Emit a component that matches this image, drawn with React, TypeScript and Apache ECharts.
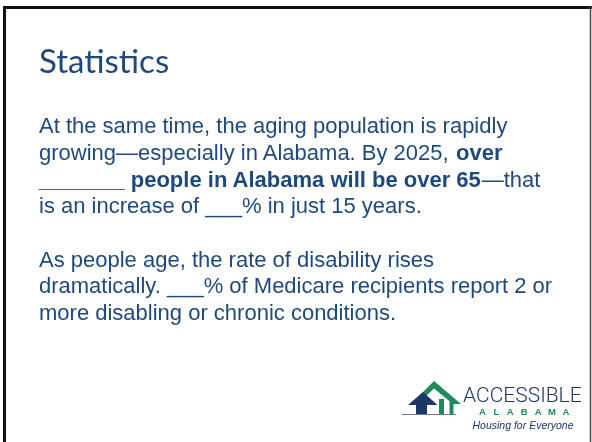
import React, { useEffect, useRef } from "react";
import * as echarts from "echarts";

// ---- slide content ----
const titleText = "Statistics";
// each line: list of [text, style] segments (r = regular, b = bold)
const paragraph1: [string, string][][] = [
  [["At the same time, the aging population is rapidly", "r"]],
  [["growing—especially in Alabama. By 2025, ", "r"], ["over", "b"]],
  [["_______ people in Alabama will be over 65", "b"], ["—that", "r"]],
  [["is an increase of ___% in just 15 years.", "r"]],
];
const paragraph2: [string, string][][] = [
  [["As people age, the rate of disability rises", "r"]],
  [["dramatically. ___% of Medicare recipients report 2 or", "r"]],
  [["more disabling or chronic conditions.", "r"]],
];
const logoWord = "ACCESSIBLE";
const logoState = ["A", "L", "A", "B", "A", "M", "A"];
const logoTagline = "Housing for Everyone";

const NAVY = "#1F497D";
const LOGO_NAVY = "#1B3768";
const LOGO_GREEN = "#1F8A5C";

export default function App() {
  const ref = useRef<HTMLDivElement>(null);
  useEffect(() => {
    if (!ref.current) return;
    const chart = echarts.init(ref.current, null, { renderer: "svg" });
    const bodyFont = "Liberation Sans, Arial, sans-serif";
    const bodySize = 22;
    const lineGap = 26.6;
    const central = 7.6;
    const rich = {
      r: { fontFamily: bodyFont, fontSize: bodySize, fill: NAVY, fontWeight: "normal" as const },
      b: { fontFamily: bodyFont, fontSize: bodySize, fill: NAVY, fontWeight: "bold" as const },
    };
    const lineEls = (lines: [string, string][][], firstBaseline: number) =>
      lines.map((segs, i) => ({
        type: "text",
        x: 39,
        y: firstBaseline + i * lineGap - central,
        style: {
          text: segs.map(([t, s]) => `{${s}|${t}}`).join(""),
          rich,
          align: "left",
          verticalAlign: "middle",
          fontFamily: bodyFont,
          fontSize: bodySize,
          fill: NAVY,
        },
      }));

    const elements: any[] = [
      // slide frame
      { type: "rect", shape: { x: 0, y: 0, width: 592, height: 442 }, style: { fill: "#fff" } },
      { type: "line", shape: { x1: 3, y1: 7.5, x2: 592, y2: 7.5 }, style: { stroke: "#111", lineWidth: 3 } },
      { type: "line", shape: { x1: 4.5, y1: 6, x2: 4.5, y2: 442 }, style: { stroke: "#111", lineWidth: 3 } },
      { type: "line", shape: { x1: 590.5, y1: 6, x2: 590.5, y2: 442 }, style: { stroke: "#444", lineWidth: 1.5 } },
      // title
      {
        type: "text",
        x: 39,
        y: 60,
        style: {
          text: titleText,
          fontFamily: "Lato, sans-serif",
          fontSize: 33,
          fill: NAVY,
          align: "left",
          verticalAlign: "middle",
        },
      },
      ...lineEls(paragraph1, 133.5),
      ...lineEls(paragraph2, 266.7),
      // logo icon
      {
        type: "polygon",
        shape: {
          points: [
            [419, 396], [434, 381], [461, 404], [453, 404], [434, 388.5], [425, 397],
          ],
        },
        style: { fill: LOGO_GREEN },
      },
      { type: "rect", shape: { x: 439, y: 399, width: 5, height: 15 }, style: { fill: LOGO_GREEN } },
      { type: "rect", shape: { x: 449.5, y: 400, width: 4, height: 14 }, style: { fill: LOGO_GREEN } },
      {
        type: "polygon",
        shape: {
          points: [
            [423, 392], [437.5, 405], [427, 405], [427, 414], [416, 414], [416, 405], [408, 405],
          ],
        },
        style: { fill: LOGO_NAVY },
      },
      { type: "line", shape: { x1: 402, y1: 414.5, x2: 456, y2: 414.5 }, style: { stroke: "#6b7a8f", lineWidth: 1 } },
      {
        type: "text",
        x: 463,
        y: 394.5,
        style: {
          text: logoWord,
          fontFamily: "Roboto, sans-serif",
          fontWeight: 300,
          fontSize: 21,
          fill: LOGO_NAVY,
          align: "left",
          verticalAlign: "middle",
        },
      },
      ...logoState.map((ch, i) => ({
        type: "text",
        x: 482.5 + i * 13.9,
        y: 411.5,
        style: {
          text: ch,
          fontFamily: "Liberation Sans, Arial, sans-serif",
          fontWeight: "bold",
          fontSize: 9.5,
          fill: LOGO_GREEN,
          align: "center",
          verticalAlign: "middle",
        },
      })),
      {
        type: "text",
        x: 523,
        y: 425,
        style: {
          text: logoTagline,
          fontFamily: "Liberation Sans, Arial, sans-serif",
          fontStyle: "italic",
          fontSize: 10.5,
          fill: LOGO_NAVY,
          align: "center",
          verticalAlign: "middle",
        },
      },
    ];

    chart.setOption({
      animation: false,
      graphic: { elements },
    });
    return () => chart.dispose();
  }, []);
  return (
    <div
      ref={ref}
      style={{ position: "fixed", left: 0, top: 0, width: 592, height: 442 }}
    />
  );
}
